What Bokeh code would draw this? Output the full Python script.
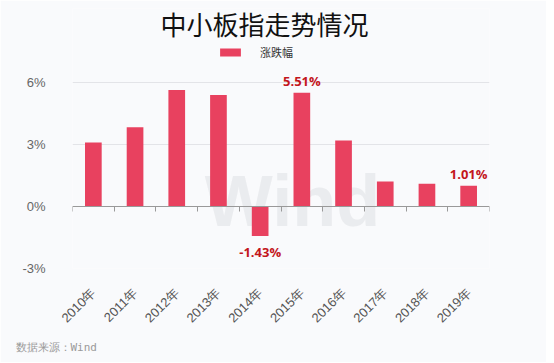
import math
from bokeh.plotting import figure
from bokeh.models import (ColumnDataSource, Range1d, FixedTicker, LinearAxis, Label, Title,
                          Legend, LegendItem, PrintfTickFormatter, CustomJSTickFormatter)
from bokeh.core.properties import value
from bokeh.embed import file_html
from bokeh.resources import INLINE

# ---------------- data ----------------
years = ["2010年", "2011年", "2012年", "2013年", "2014年",
         "2015年", "2016年", "2017年", "2018年", "2019年"]
changes = [3.10, 3.83, 5.64, 5.40, -1.43, 5.51, 3.19, 1.21, 1.10, 1.01]
labeled_years = ["2014年", "2015年", "2019年"]
y_ticks = [-3, 0, 3, 6]
title_text = "中小板指走势情况"
series_name = "涨跌幅"
source_note = "数据来源：Wind"
watermark = "Wind"

BAR = "#e8415f"
LABEL_RED = "#c3161c"
BG = "#f9fafc"

n = len(years)
centers = [i + 0.5 for i in range(n)]
bounds = list(range(n + 1))

W, H = 546, 362
TOP, BOTTOM = 8, 94
# frame extends up to the top of the card (title/legend live inside it);
# 62 px per 3 % as in the reference
px_per_unit = 62 / 3
y_top = 6 + (82 - TOP) / px_per_unit

p = figure(width=W, height=H, x_range=Range1d(0, n), y_range=Range1d(-3.0, y_top),
           output_backend="svg", toolbar_location=None,
           min_border_left=72, min_border_right=57, min_border_top=TOP,
           min_border_bottom=BOTTOM)
p.background_fill_color = BG
p.border_fill_color = BG
p.outline_line_color = None

# bars
src = ColumnDataSource(dict(x=centers, top=changes, year=years))
r = p.vbar(x="x", top="top", bottom=0, width=0.4, source=src,
           fill_color=BAR, line_color=None)

# data labels
pos_x, pos_y, pos_t, neg_x, neg_y, neg_t = [], [], [], [], [], []
for cx, yr, v in zip(centers, years, changes):
    if yr in labeled_years:
        if v >= 0:
            pos_x.append(cx); pos_y.append(v); pos_t.append(f"{v:.2f}%")
        else:
            neg_x.append(cx); neg_y.append(v); neg_t.append(f"{v:.2f}%")
p.text(x=pos_x, y=pos_y, text=pos_t, text_align="center", text_baseline="bottom",
       y_offset=-3, text_color=LABEL_RED, text_font_size="13px",
       text_font_style="bold", text_font=value("Open Sans"))
p.text(x=neg_x, y=neg_y, text=neg_t, text_align="center", text_baseline="top",
       y_offset=7, text_color=LABEL_RED, text_font_size="13px",
       text_font_style="bold", text_font=value("Open Sans"))

# y axis
yax = p.yaxis[0]
yax.ticker = FixedTicker(ticks=y_ticks)
yax.formatter = PrintfTickFormatter(format="%d%%")
yax.axis_line_color = None
yax.major_tick_line_color = None
yax.minor_tick_line_color = None
yax.major_label_standoff = 21
yax.major_label_text_color = "#666666"
yax.major_label_text_font = "Liberation Sans"
yax.major_label_text_font_size = "13px"

# grid
p.xgrid.grid_line_color = None
p.ygrid.ticker = FixedTicker(ticks=[t for t in y_ticks if t != 0])
p.ygrid.grid_line_color = "#e3e4e8"

# x axis labels (bottom)
xax = p.xaxis[0]
xax.ticker = FixedTicker(ticks=centers)
xax.formatter = CustomJSTickFormatter(args=dict(labels=years),
                                      code="return labels[Math.floor(tick)];")
xax.axis_line_color = None
xax.major_tick_line_color = None
xax.minor_tick_line_color = None
xax.major_label_orientation = math.pi / 4
xax.major_label_standoff = 16
xax.major_label_text_color = "#555555"
xax.major_label_text_font = "Liberation Sans"
xax.major_label_text_font_size = "13px"

# zero axis line with boundary ticks
zero_axis = LinearAxis(fixed_location=0,
                       ticker=FixedTicker(ticks=bounds),
                       formatter=CustomJSTickFormatter(code="return '';"),
                       axis_line_color="#999999", major_tick_line_color="#999999",
                       major_tick_in=5, major_tick_out=0,
                       minor_tick_line_color=None, major_label_standoff=0)
p.add_layout(zero_axis, "above")

# frame-relative positions (origin at the frame's bottom-left, y up)
frame_bottom = H - BOTTOM

# title
p.add_layout(Label(x=264 - 72, y=frame_bottom - 23, x_units="screen", y_units="screen",
                   text=title_text, text_align="center", text_baseline="middle",
                   text_font="Noto Sans CJK SC", text_font_size="26px",
                   text_color="#111111"))

# legend
legend = Legend(items=[LegendItem(label=series_name, renderers=[r])],
                location=(217 - 72, frame_bottom - 60), orientation="horizontal",
                glyph_width=26, glyph_height=10, label_height=10, label_standoff=17,
                padding=0, margin=0, border_line_color=None, background_fill_alpha=0,
                label_text_font="Noto Sans CJK SC", label_text_font_size="11px",
                label_text_color="#333333")
p.add_layout(legend, "center")

# watermark
p.add_layout(Label(x=292 - 72, y=frame_bottom - 200, x_units="screen", y_units="screen",
                   text=watermark, text_align="center", text_baseline="middle",
                   text_font="Liberation Sans", text_font_size="72px",
                   text_font_style="bold", text_color="#dfe0e4", text_alpha=0.55,
                   level="underlay"))

# source note
p.add_layout(Title(text=source_note, align="left", offset=-57, standoff=10,
                   text_font="DejaVu Sans Mono", text_font_size="11px",
                   text_font_style="normal", text_color="#999999"), "below")

open("out.html", "w").write(file_html(p, INLINE))
